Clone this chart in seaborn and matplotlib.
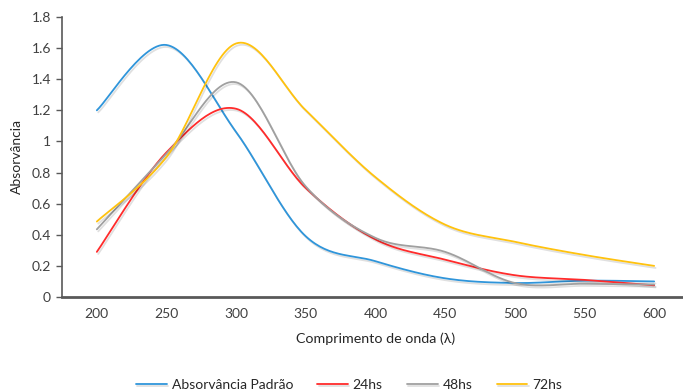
import numpy as np
import pandas as pd
import matplotlib
matplotlib.use("Agg")
import matplotlib.pyplot as plt
import matplotlib.patheffects as pe
import seaborn as sns

# comprimento de onda (nm)
wavelength = [200, 250, 300, 350, 400, 450, 500, 550, 600]
# absorvancias
padrao = [1.20, 1.62, 1.06, 0.39, 0.23, 0.12, 0.09, 0.105, 0.10]
abs_24hs = [0.29, 0.93, 1.21, 0.70, 0.37, 0.24, 0.14, 0.11, 0.075]
abs_48hs = [0.435, 0.92, 1.38, 0.71, 0.38, 0.29, 0.09, 0.085, 0.08]
abs_72hs = [0.485, 0.90, 1.63, 1.20, 0.77, 0.465, 0.355, 0.27, 0.20]

names = ["Absorvância Padrão", "24hs", "48hs", "72hs"]
series = [padrao, abs_24hs, abs_48hs, abs_72hs]
colors = ["#2F95DA", "#FF2B2B", "#A0A0A0", "#FFC20E"]


def smooth(x, y, n=30):
    # linha suavizada tipo excel (catmull-rom), so para desenhar
    x = np.asarray(x, float)
    y = np.asarray(y, float)
    px = np.concatenate([[x[0]], x, [x[-1]]])
    py = np.concatenate([[y[0]], y, [y[-1]]])
    xs, ys = [], []
    for i in range(1, len(px) - 2):
        p0, p1, p2, p3 = px[i-1], px[i], px[i+1], px[i+2]
        q0, q1, q2, q3 = py[i-1], py[i], py[i+1], py[i+2]
        c1x, c1y = p1 + (p2 - p0) / 6, q1 + (q2 - q0) / 6
        c2x, c2y = p2 - (p3 - p1) / 6, q2 - (q3 - q1) / 6
        t = np.linspace(0, 1, n, endpoint=(i == len(px) - 3))
        b0, b1, b2, b3 = (1-t)**3, 3*(1-t)**2*t, 3*(1-t)*t**2, t**3
        xs.append(b0*p1 + b1*c1x + b2*c2x + b3*p2)
        ys.append(b0*q1 + b1*c1y + b2*c2y + b3*q2)
    return np.concatenate(xs), np.concatenate(ys)


sns.set_theme(style="white")
plt.rcParams["font.family"] = ["Lato", "DejaVu Sans"]

fig = plt.figure(figsize=(6.83, 3.92), dpi=100)
ax = fig.add_axes([62/683, 95/392, 627/683, 280/392])

for name, vals, c in zip(names, series, colors):
    sx, sy = smooth(wavelength, vals)
    df = pd.DataFrame({"x": sx, "y": sy})
    sns.lineplot(data=df, x="x", y="y", ax=ax, color=c, linewidth=1.3, label=name,
                 sort=False, estimator=None,
                 path_effects=[pe.SimpleLineShadow(offset=(1, -1.5), shadow_color="black", alpha=0.12),
                               pe.Normal()])

ax.set_xlim(175, 625)
ax.set_ylim(0, 1.8)
ax.set_xticks(wavelength)
ax.set_xticklabels([str(w) for w in wavelength])
yt = [0, 0.2, 0.4, 0.6, 0.8, 1.0, 1.2, 1.4, 1.6, 1.8]
ax.set_yticks(yt)
ax.set_yticklabels(["0", "0.2", "0.4", "0.6", "0.8", "1", "1.2", "1.4", "1.6", "1.8"])
ax.tick_params(axis="y", left=True, length=4, width=1, color="#595959", labelsize=10,
               labelcolor="#404040", pad=4)
ax.tick_params(axis="x", bottom=False, labelsize=10, labelcolor="#404040", pad=2)

for s in ["top", "right"]:
    ax.spines[s].set_visible(False)
ax.spines["left"].set_color("#595959")
ax.spines["left"].set_linewidth(1.2)
ax.spines["bottom"].set_color("#595959")
ax.spines["bottom"].set_linewidth(2)

ax.set_xlabel("Comprimento de onda (λ)", fontsize=10.3, color="#262626", labelpad=9)
ax.set_ylabel("Absorvância", fontsize=10, color="#262626", labelpad=6)

handles, labels = ax.get_legend_handles_labels()
ax.get_legend().remove()
fig.legend(handles, labels, loc="center", bbox_to_anchor=(349/683, 1 - 385/392), ncol=4,
           frameon=False, fontsize=10, handlelength=2.2, handletextpad=0.35,
           columnspacing=1.75, labelcolor="#262626")

fig.savefig("out.png", dpi=100)
